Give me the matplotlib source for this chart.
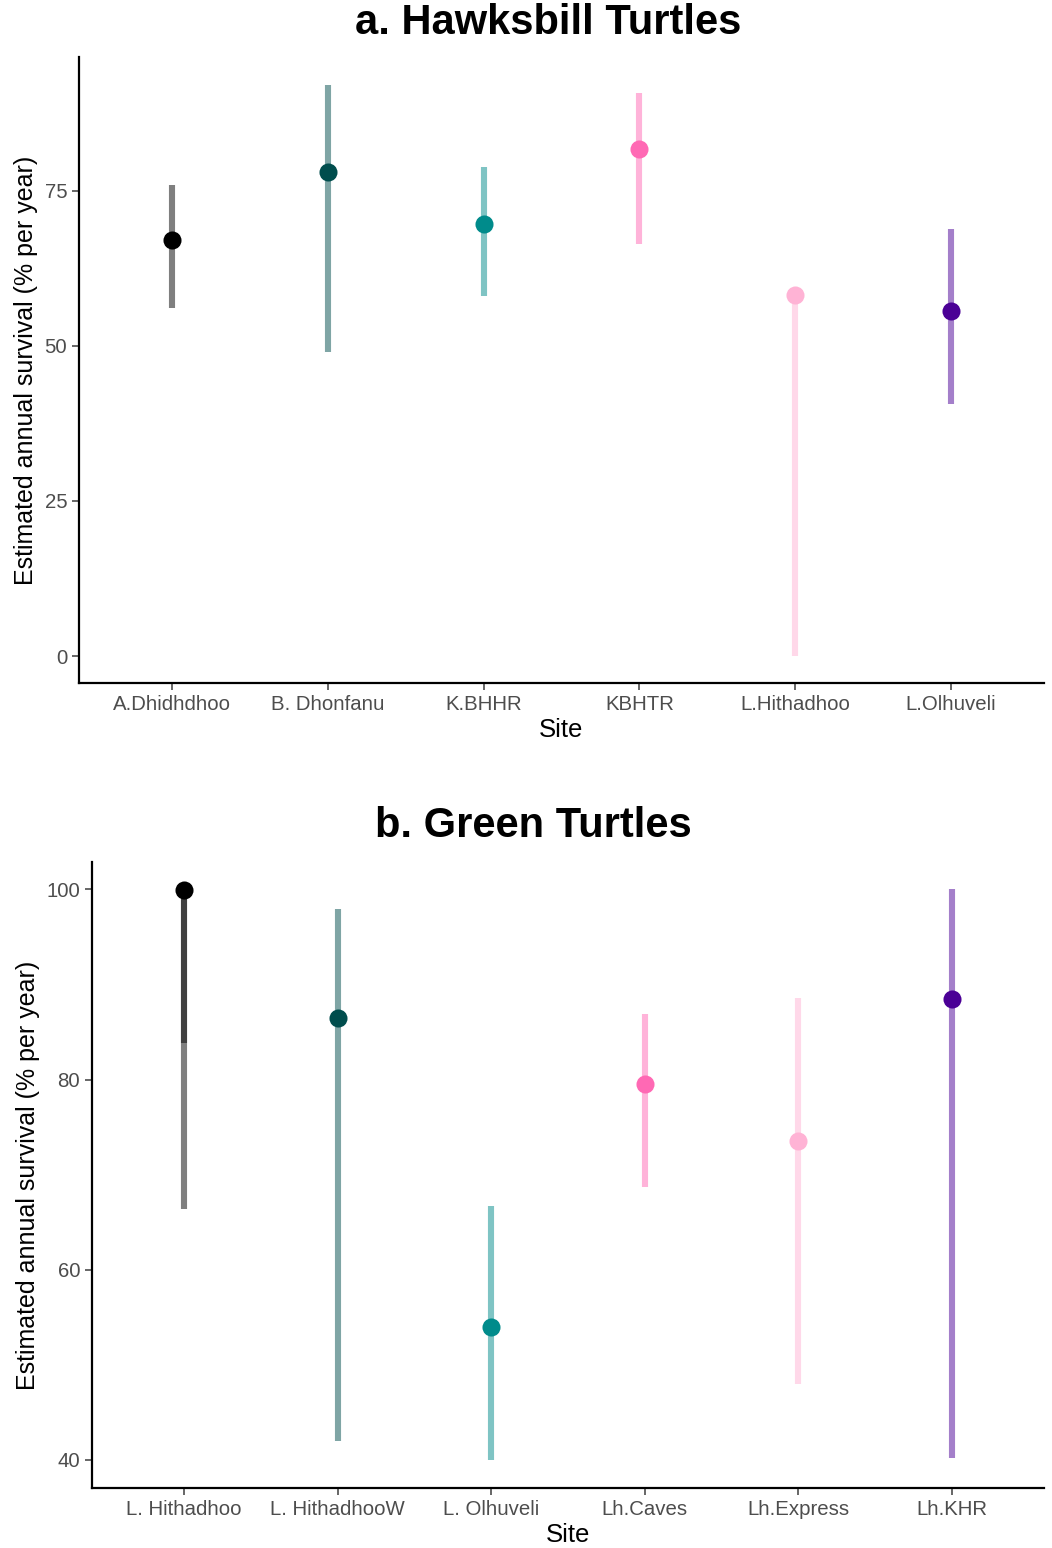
import matplotlib
matplotlib.use("Agg")
import matplotlib.pyplot as plt
import numpy as np

plt.rcParams['font.family'] = ['Liberation Sans', 'DejaVu Sans']

# Datos - tortugas carey
hb_sites = ["A.Dhidhdhoo", "B. Dhonfanu", "K.BHHR", "KBHTR", "L.Hithadhoo", "L.Olhuveli"]
hb_est = [67.1, 78.1, 69.7, 81.8, 58.2, 55.6]
hb_low = [56.1, 49.0, 58.1, 66.5, 0.0, 40.6]
hb_high = [76.0, 92.1, 78.9, 90.8, 58.2, 68.9]

# Datos - tortugas verdes
gr_sites = ["L. Hithadhoo", "L. HithadhooW", "L. Olhuveli", "Lh.Caves", "Lh.Express", "Lh.KHR"]
gr_est = [99.9, 86.5, 54.0, 79.5, 73.5, 88.5]
gr_low = [66.4, 42.0, 40.0, 68.7, 48.0, 40.2]
gr_high = [100.0, 98.0, 66.7, 86.9, 88.6, 100.0]
# segundo intervalo superpuesto en L. Hithadhoo
gr_extra_site = 0
gr_extra_low = 83.9
gr_extra_high = 100.0

colores = ["#000000", "#004D4D", "#008B8B", "#FF69B4", "#FFB3D5", "#4B0096"]

fig = plt.figure(figsize=(10.52, 15.48), dpi=100)


def panel(ax, sites, est, low, high, yticks, ylim, titulo, title_x, title_y):
    x = np.arange(1, len(sites) + 1)
    for i in range(len(sites)):
        ax.plot([x[i], x[i]], [low[i], high[i]], color=colores[i], alpha=0.5,
                lw=4.4, solid_capstyle='butt', zorder=2)
        ax.plot(x[i], est[i], 'o', color=colores[i], ms=13, mec='none', zorder=3)
    ax.set_xlim(0.4, 6.6)
    ax.set_ylim(*ylim)
    ax.set_xticks(x)
    ax.set_xticklabels(sites)
    ax.set_yticks(yticks)
    for s in ['top', 'right']:
        ax.spines[s].set_visible(False)
    for s in ['left', 'bottom']:
        ax.spines[s].set_linewidth(1.6)
    ax.tick_params(axis='both', colors='#4D4D4D', labelsize=14.7, length=5, width=1.2,
                   labelcolor='#4D4D4D')
    ax.set_xlabel("Site", fontsize=18.5, labelpad=3)
    ax.set_ylabel("Estimated annual survival (% per year)", fontsize=18, labelpad=5)
    fig.text(title_x, title_y, titulo, fontsize=30, fontweight='bold',
             ha='center', va='center')
    return x


ax1 = fig.add_axes([0.0751, 0.5588, 0.9173, 0.4044])
panel(ax1, hb_sites, hb_est, hb_low, hb_high, [0, 25, 50, 75], (-4.35, 96.6),
      "a. Hawksbill Turtles", 0.521, 1 - 23 / 1548)

ax2 = fig.add_axes([0.0875, 0.0388, 0.9049, 0.4044])
xg = panel(ax2, gr_sites, gr_est, gr_low, gr_high, [40, 60, 80, 100], (37.05, 102.9),
           "b. Green Turtles", 0.507, 1 - 826 / 1548)
ax2.plot([xg[gr_extra_site]] * 2, [gr_extra_low, gr_extra_high], color=colores[0],
         alpha=0.5, lw=4.4, solid_capstyle='butt', zorder=2)

fig.savefig("out.png", dpi=100)
